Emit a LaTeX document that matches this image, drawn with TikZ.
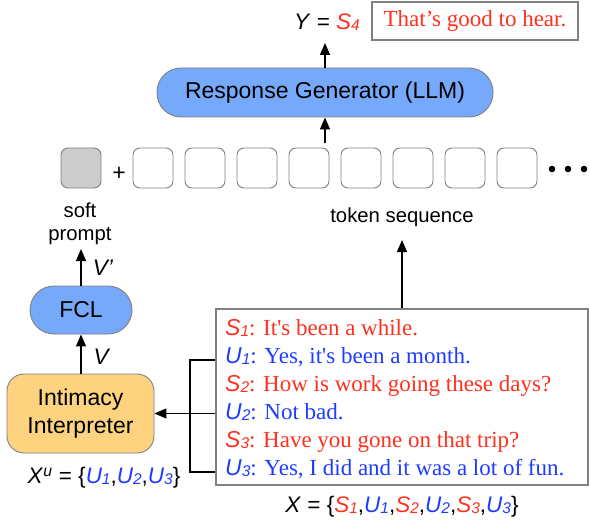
\documentclass[tikz,border=0pt]{standalone}
\usepackage{fontspec}
\setmainfont{Liberation Serif}
\setsansfont{Liberation Sans}
\newfontfamily\dlgfont{Liberation Serif}
\usetikzlibrary{arrows.meta}

\definecolor{spk}{RGB}{255,48,30}
\definecolor{usr}{RGB}{30,60,255}
\definecolor{llmfill}{RGB}{118,169,249}
\definecolor{intfill}{RGB}{253,211,127}
\definecolor{edge}{RGB}{128,128,128}
\definecolor{tokfill}{RGB}{204,204,204}

% speaker / user turn symbols with small index digits
\newcommand\idx[1]{{\fontsize{15.5}{15.5}\selectfont\raisebox{-1pt}{#1}}}
\newcommand\Sp[1]{\textcolor{spk}{\sffamily\itshape S\idx{#1}}}
\newcommand\Us[1]{\textcolor{usr}{\sffamily\itshape U\idx{#1}}}

\begin{document}
\begin{tikzpicture}[x=1pt,y=-1pt,
  pill/.style={draw=edge, line width=0.9pt, fill=llmfill, inner sep=0pt,
    font=\sffamily\fontsize{23}{27.5}\selectfont},
  tokbox/.style={draw=edge, line width=0.9pt, fill=white, minimum size=40pt,
    rounded corners=7pt, inner sep=0pt},
  arr/.style={-{Triangle[length=12pt,width=10pt]}, line width=1.3pt},
  wire/.style={line width=1.3pt},
  lbl/.style={font=\sffamily\fontsize{20.3}{23}\selectfont, inner sep=0pt, align=center},
  mlbl/.style={font=\sffamily\fontsize{22.5}{26}\selectfont, inner sep=0pt},
  dline/.style={anchor=base west, inner sep=0pt,
    font=\dlgfont\fontsize{23}{28}\selectfont},
]
\useasboundingbox (0,0) rectangle (589,524);

% output
\node[mlbl] (yout) at (327,22) {\textit{Y} = \Sp{4}};
\node[draw=edge, line width=2pt, minimum width=206pt, minimum height=38pt,
  inner sep=0pt, text=spk, font=\dlgfont\fontsize{23}{28}\selectfont]
  (resp) at (475,21) {That’s good to hear.};
\coordinate (ytip) at (325,43);

% response generator
\node[pill, minimum width=336pt, minimum height=49pt, rounded corners=24pt]
  (llm) at (325,92.5) {Response Generator (LLM)};
\draw[arr] (llm.north) -- (llm.north |- ytip);

% input token row
\node[tokbox, fill=tokfill] (tok0) at (81,168) {};
\node[font=\sffamily\fontsize{23}{26}\selectfont, anchor=base, inner sep=0pt]
  (plus) at (119,180) {+};
\foreach \i in {1,...,8}
  \node[tokbox] (tok\i) at ({153+52*(\i-1)},168) {};
\foreach \x [count=\k] in {552,568,584}
  \fill (\x,169) circle (3.3pt) coordinate (dot\k);
\coordinate (tokup) at (325,143);
\draw[arr] (tokup) -- (llm.south);

\node[lbl] (tseq) at (402,217) {token sequence};
\node[lbl] (soft) at (80,223.5) {soft\\prompt};
\coordinate (softtip) at (80,249);
\coordinate (tseqtip) at (402,240);

% intimacy branch
\node[pill, minimum width=102pt, minimum height=48pt, rounded corners=24pt]
  (fcl) at (81,310) {FCL};
\node[pill, fill=intfill, minimum width=147pt, minimum height=79pt,
  rounded corners=17pt, align=center]
  (intim) at (80.5,413.5) {Intimacy\\Interpreter};
\draw[arr] (fcl.north) -- (fcl.north |- softtip);
\draw[arr] (intim.north -| fcl) -- (fcl.south);
\node[mlbl] (vp) at (103,268) {\textit{V’}};
\node[mlbl] (v) at (102,357) {\textit{V}};
\node[mlbl] (xu) at (104,478)
  {\textit{X}\textsuperscript{\textit{u}} = \{\Us{1},\Us{2},\Us{3}\}};

% dialogue context
\node[draw=edge, line width=2pt, minimum width=372pt, minimum height=176pt,
  inner sep=0pt] (dlg) at (402,397) {};
\node[dline, text=spk] (l1) at (225,335) {\Sp{1}: It's been a while.};
\node[dline, text=usr] (l2) at (225,363) {\Us{1}: Yes, it's been a month.};
\node[dline, text=spk] (l3) at (225,391) {\Sp{2}: How is work going these days?};
\node[dline, text=usr] (l4) at (225,419) {\Us{2}: Not bad.};
\node[dline, text=spk] (l5) at (225,447) {\Sp{3}: Have you gone on that trip?};
\node[dline, text=usr] (l6) at (225,475) {\Us{3}: Yes, I did and it was a lot of fun.};
\node[mlbl] (xall) at (402,507)
  {\textit{X} = \{\Sp{1},\Us{1},\Sp{2},\Us{2},\Sp{3},\Us{3}\}};

\draw[arr] (dlg.north) -- (dlg.north |- tseqtip);

% user turns gathered into the interpreter
\coordinate (j1) at (190,360);
\coordinate (j3) at (190,472);
\draw[wire] (dlg.west |- j1) -- (j1) -- (j3) -- (dlg.west |- j3);
\draw[arr] (dlg.west |- intim.east) -- (intim.east);
\end{tikzpicture}
\end{document}
